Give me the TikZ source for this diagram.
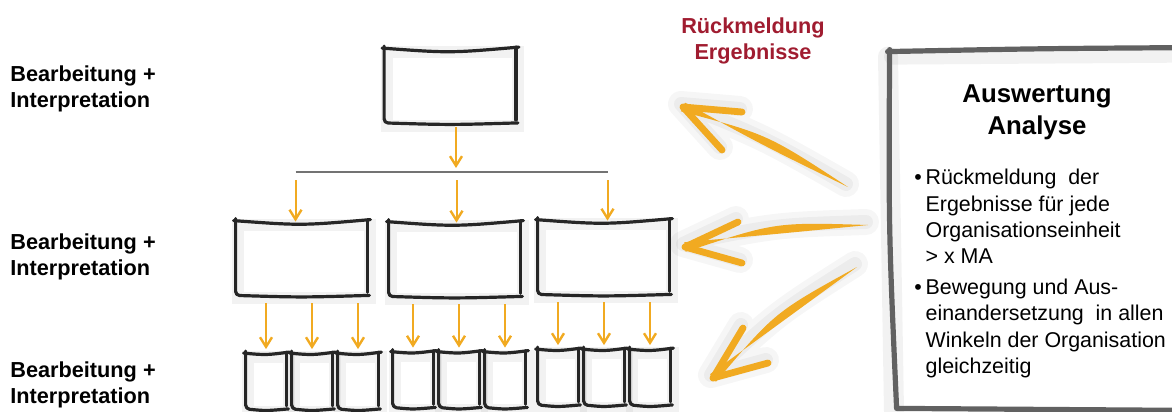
\documentclass[tikz,border=0pt]{standalone}
\usepackage{fontspec}
\setmainfont{Liberation Sans}
\usetikzlibrary{positioning,arrows.meta,calc}
\definecolor{amber}{RGB}{241,170,33}
\definecolor{wine}{RGB}{160,28,48}
\definecolor{ink}{RGB}{38,38,38}
\newcommand{\lblfont}{\fontsize{10.85}{13}\selectfont\bfseries}
\newcommand{\headfont}{\fontsize{12.9}{16}\selectfont\bfseries}
\newcommand{\bodyfont}{\fontsize{10.7}{13.1}\selectfont}
\newcommand{\bul}{\makebox[5.6pt][l]{\textbullet}}
\newcommand{\ind}{\hspace*{5.6pt}}
% thick hand-drawn orange arrow: tail, tip, arm, arm, bow of the shaft
\newcommand{\feedback}[5]{%
  \coordinate (fbmid) at ($(#1)!0.5!(#2)+(#5)$);
  \begin{scope}[transform canvas={shift={(-1pt,1.5pt)}}]
    \draw[black, opacity=0.035, line width=13pt, line cap=round, line join=round]
      (#3) -- (#2) -- (#4) (#2) .. controls (fbmid) .. (#1);
    \draw[black, opacity=0.04, line width=7pt, line cap=round, line join=round]
      (#3) -- (#2) -- (#4) (#2) .. controls (fbmid) .. (#1);
  \end{scope}
  \fill[amber] (#1) .. controls ($(fbmid)!3pt!90:(#2)$) .. ($(#2)!2.4pt!90:(#1)$)
    -- ($(#2)!2.4pt!-90:(#1)$) .. controls ($(fbmid)!3pt!-90:(#2)$) .. cycle;
  \draw[amber, line width=3.4pt, line cap=round, line join=round] (#3) -- (#2) -- (#4);
}

\begin{document}
\begin{tikzpicture}[x=0.5pt, y=-0.5pt,
    box/.style={minimum width=65.5pt, minimum height=36.5pt, inner sep=0pt},
    cell/.style={minimum width=20pt, minimum height=27pt, inner sep=0pt},
    pen/.style={draw=ink, line width=1.6pt, line cap=round, line join=round},
    haze/.style={draw=black, opacity=0.05, line width=6pt, line cap=round},
    frame/.style={draw=black!62, line width=2.6pt, line cap=round, line join=round},
    flow/.style={draw=amber, line width=1pt, -{Straight Barb[length=4.8pt,width=6pt,line width=1.2pt]}},
    rule/.style={draw=black!55, line width=1pt},
    side/.style={anchor=north west, inner sep=0pt, align=left, font=\lblfont}
  ]
  \useasboundingbox (0,0) rectangle (1172,412);
  \clip (0,0) rectangle (1172,412);

  % levels on the left
  \node[side] (l1) at (10,65) {Bearbeitung +\\Interpretation};
  \node[side] (l2) at (10,233) {Bearbeitung +\\Interpretation};
  \node[side] (l3) at (10,361) {Bearbeitung +\\Interpretation};

  % organisation chart
  \node[box] (top) at (450,86) {};
  \node[box] (m1) at (301.5,258.5) {};
  \node[box] (m2) at (454.5,259.5) {};
  \node[box] (m3) at (603.5,257.5) {};
  \foreach \g/\xa/\yc in {1/266/381.5, 2/413/380, 3/558/377.5}
    \foreach \i in {1,2,3}
      \node[cell] (s\g\i) at ({\xa+46*(\i-1)},\yc) {};
  \coordinate (bar) at (456,172);

  % evaluation box
  \node[inner sep=0pt, minimum width=148pt, minimum height=179pt] (ana) at (1038,229) {};

  % soft shadows
  \begin{scope}[transform canvas={shift={(1.2pt,-1.5pt)}}]
    \foreach \b in {top,m1,m2,m3,s11,s12,s13,s21,s22,s23,s31,s32,s33} {
      \draw[haze] (\b.north west) -- (\b.south west) -- (\b.south east) -- (\b.north east) -- cycle;
    }
    \draw[haze, line width=10pt] ($(ana.north west)+(-4,4)$) -- ($(ana.south west)+(2,0)$);
    \draw[haze, line width=8pt] ($(ana.north west)+(0,4)$) -- ($(ana.north east)+(0,2)$);
  \end{scope}

  % sketched boxes, \s is the sag of the top stroke
  \foreach \b/\s in {top/4,m1/4,m2/4,m3/4,s11/1,s12/1,s13/1,s21/1,s22/1,s23/1,s31/1,s32/1,s33/1} {
    \draw[pen] ($(\b.north west)+(-2,-1)$) .. controls ($(\b.north)+(0,\s)$) .. ($(\b.north east)+(3,-2)$);
    \draw[pen, rounded corners=2pt] ($(\b.north west)+(0,-3)$) -- (\b.south west)
      .. controls ($(\b.south)+(0,2)$) .. ($(\b.south east)+(2,0)$);
    \draw[pen] ($(\b.north east)+(0,-2)$) -- ($(\b.south east)+(0,-3)$);
  }
  \draw[frame] ($(ana.north west)+(-2,2)$) .. controls ($(ana.north)+(0,-1)$) .. ($(ana.north east)+(0,-2)$);
  \draw[frame] (ana.north west) .. controls ($(ana.west)+(-1,0)$) .. ($(ana.south west)+(7,0)$)
    -- ($(ana.south east)+(0,2)$);

  % connectors
  \draw[rule] ($(bar -| m1.north)+(-6,0)$) -- ($(bar -| m3.north)+(4,0)$);
  \draw[flow, shorten <=2pt, shorten >=2pt] (top.south -| bar) -- (bar);
  \foreach \g/\dx in {1/-6,2/2,3/4} {
    \draw[flow, shorten <=4pt] ($(bar -| m\g.north)+(\dx,0)$) -- ($(m\g.north)+(\dx,0)$);
    \foreach \i in {1,2,3}
      \draw[flow, shorten <=4pt, shorten >=2.5pt] (m\g.south -| s\g\i.north) -- (s\g\i.north);
  }

  % feedback arrows
  \coordinate (t1) at (848,187); \coordinate (h1) at (683,107);
  \coordinate (a1) at (742,112); \coordinate (b1) at (722,150);
  \coordinate (t2) at (868,225); \coordinate (h2) at (685,247);
  \coordinate (a2) at (738,222); \coordinate (b2) at (742,263);
  \coordinate (t3) at (857,267); \coordinate (h3) at (713,378);
  \coordinate (a3) at (743,328); \coordinate (b3) at (768,363);
  \feedback{t1}{h1}{a1}{b1}{0,-7}
  \feedback{t2}{h2}{a2}{b2}{0,-8}
  \feedback{t3}{h3}{a3}{b3}{-6,-6}

  % texts
  \node[anchor=north, inner sep=0pt, align=center, font=\lblfont, text=wine] (rm) at (753,17) {Rückmeldung\\Ergebnisse};
  \node[anchor=north, inner sep=0pt, align=center, font=\headfont] (head) at (1037,84) {Auswertung\\Analyse};
  \node[anchor=north west, inner sep=0pt, align=left, font=\bodyfont] (pts) at (914,169) {%
    \bul Rückmeldung\ \ der\\
    \ind Ergebnisse für jede\\
    \ind Organisationseinheit\\
    \ind > x MA\\[2.5pt]
    \bul Bewegung und Aus-\\
    \ind einandersetzung\ \ in allen\\
    \ind Winkeln der Organisation\\
    \ind gleichzeitig};
\end{tikzpicture}
\end{document}
